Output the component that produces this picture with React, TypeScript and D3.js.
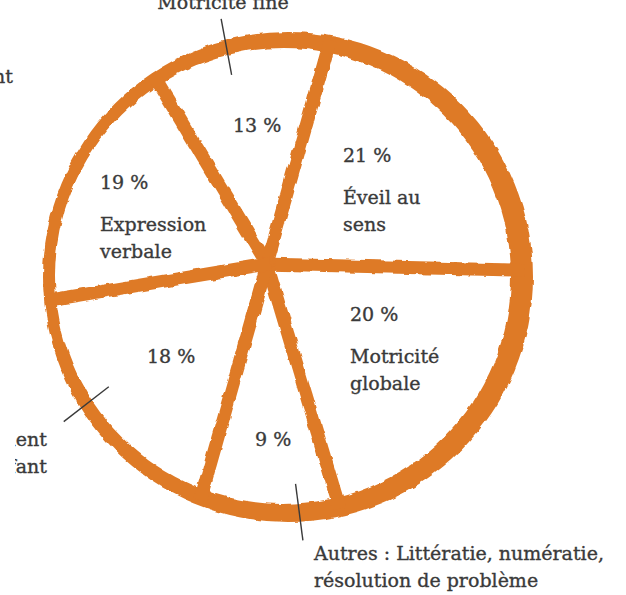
import React from "react";
import * as d3 from "d3";

// ---- data ----
const categories = [
  "Motricité fine",
  "Éveil au sens",
  "Motricité globale",
  "Autres",
  "Développement de l'enfant",
  "Expression verbale",
];
const values = [13, 21, 20, 9, 18, 19];
const innerNames: string[][] = [[], ["Éveil au", "sens"], ["Motricité", "globale"], [], [], ["Expression", "verbale"]];
const outerNames: string[][] = [
  ["Motricité fine"],
  [],
  [],
  ["Autres : Littératie, numératie,", "résolution de problème"],
  ["Développement", "de l'enfant"],
  [],
];
const orphanText = "Domaine de développement";

// ---- layout ----
const W = 626, H = 595;
const ORANGE = "#DE7A27";
const TEXT = "#3a3a3a";
const FONT = "'DejaVu Serif', serif";
const FS = 19;
const pieCenter = { x: 267, y: 264 };
const ring = { cx: 285, cy: 276, r: 236 };
const ringOuter = { cx: 288, cy: 277, r: 245 };
const ringInner = { cx: 283, cy: 276, r: 228 };
const startDeg = -31;
const pctPos = [
  { x: 233, y: 132 }, { x: 343, y: 162 }, { x: 350, y: 321 },
  { x: 255, y: 446 }, { x: 147, y: 363 }, { x: 100, y: 189 },
];
const outerPos: ({ x: number; y: number; anchor: string; clipX?: number } | null)[] = [
  { x: 223, y: 9, anchor: "middle" }, null, null,
  { x: 314, y: 560, anchor: "start" },
  { x: 47, y: 446, anchor: "end", clipX: 15 }, null,
];
const leaderNudge = [-3, 0, 0, -7, 4, 0];

function rayToRing(angle: number) {
  const ux = Math.sin(angle), uy = -Math.cos(angle);
  const dx = pieCenter.x - ring.cx, dy = pieCenter.y - ring.cy;
  const b = dx * ux + dy * uy;
  const c = dx * dx + dy * dy - ring.r * ring.r;
  const t = -b + Math.sqrt(b * b - c);
  return { t, ux, uy };
}

export default function App() {
  const pie = d3
    .pie<number>()
    .sort(null)
    .value((d) => d)
    .startAngle((startDeg * Math.PI) / 180)
    .endAngle((startDeg * Math.PI) / 180 + 2 * Math.PI);
  const arcs = pie(values);

  const spokes = arcs.map((a) => {
    const { t, ux, uy } = rayToRing(a.startAngle);
    const end = t + 4;
    return {
      x1: pieCenter.x - ux * 4,
      y1: pieCenter.y - uy * 4,
      x2: pieCenter.x + ux * end,
      y2: pieCenter.y + uy * end,
    };
  });

  const circlePath = (c: { cx: number; cy: number; r: number }) => {
    const p = d3.path();
    p.moveTo(c.cx + c.r, c.cy);
    p.arc(c.cx, c.cy, c.r, 0, 2 * Math.PI);
    p.closePath();
    return p.toString();
  };
  const ringPath = circlePath(ringOuter) + circlePath(ringInner);

  const leaders = arcs.map((a, i) => {
    if (!outerNames[i].length) return null;
    const mid = (a.startAngle + a.endAngle) / 2 + (leaderNudge[i] * Math.PI) / 180;
    const { t, ux, uy } = rayToRing(mid);
    return {
      x1: pieCenter.x + ux * (t - 28),
      y1: pieCenter.y + uy * (t - 28),
      x2: pieCenter.x + ux * (t + 29),
      y2: pieCenter.y + uy * (t + 29),
    };
  });

  return (
    <svg
      width={W}
      height={H}
      viewBox={`0 0 ${W} ${H}`}
      style={{ position: "absolute", left: 0, top: 0, background: "#fff" }}
      fontFamily={FONT}
    >
      <defs>
        <filter id="rough" x="-10%" y="-10%" width="120%" height="120%">
          <feTurbulence type="fractalNoise" baseFrequency="0.09" numOctaves={2} seed={3} result="n" />
          <feDisplacementMap in="SourceGraphic" in2="n" scale={4.5} xChannelSelector="R" yChannelSelector="G" />
        </filter>
        <clipPath id="leftClip">
          <rect x={15} y={0} width={W} height={H} />
        </clipPath>
      </defs>
      <rect width={W} height={H} fill="#fff" />
      <g filter="url(#rough)">
        <path d={ringPath} fill={ORANGE} fillRule="evenodd" />
        {spokes.map((s, i) => (
          <line key={i} {...s} stroke={ORANGE} strokeWidth={13} />
        ))}
      </g>
      {leaders.map((l, i) =>
        l ? <line key={i} {...l} stroke="#3a3a3a" strokeWidth={1.4} /> : null
      )}
      {arcs.map((a, i) => (
        <g key={categories[i]} fill={TEXT} stroke={TEXT} strokeWidth={0.35} fontSize={FS}>
          <text x={pctPos[i].x} y={pctPos[i].y}>{`${a.data} %`}</text>
          {innerNames[i].map((line, j) => (
            <text key={j} x={pctPos[i].x} y={pctPos[i].y + 42 + j * 27}>
              {line}
            </text>
          ))}
          {outerPos[i] && (
            <g clipPath={outerPos[i]!.clipX ? "url(#leftClip)" : undefined}>
              {outerNames[i].map((line, j) => (
                <text
                  key={"o" + j}
                  x={outerPos[i]!.x}
                  y={outerPos[i]!.y + j * 27}
                  textAnchor={outerPos[i]!.anchor as any}
                >
                  {line}
                </text>
              ))}
            </g>
          )}
        </g>
      ))}
      <text x={13} y={83} textAnchor="end" fill={TEXT} stroke={TEXT} strokeWidth={0.35} fontSize={FS}>
        {orphanText}
      </text>
    </svg>
  );
}
